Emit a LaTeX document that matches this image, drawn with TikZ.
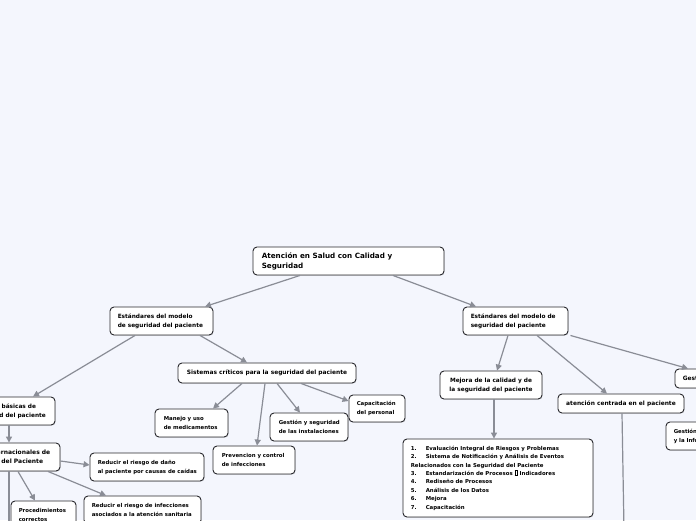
\documentclass[tikz,border=0pt]{standalone}
\usepackage{fontspec}
\setmainfont{DejaVu Sans}
\usetikzlibrary{arrows.meta,calc,shadows}
\definecolor{bgcol}{RGB}{244,246,253}
\definecolor{boxborder}{RGB}{40,40,45}
\definecolor{conncol}{RGB}{138,141,150}
\newcommand{\fsz}[2]{\fontsize{#1}{#2}\selectfont\bfseries}
\newcommand{\numit}[1]{\makebox[15pt][l]{#1}}
\newcommand{\tofu}{{\setlength\fboxsep{0pt}\setlength\fboxrule{0.4pt}\fbox{\rule{0pt}{4.6pt}\hspace{2.4pt}}}}
\tikzset{
  box/.style={draw=boxborder, fill=white, rounded corners=4pt, line width=0.9pt,
    inner sep=0pt,
    drop shadow={opacity=0.25, shadow xshift=0.6pt, shadow yshift=-0.8pt}},
  txt/.style={inner sep=0pt, align=left, font=\fsz{5.8}{9}},
  conn/.style={draw=conncol, line width=1.2pt, -{Triangle[length=6pt,width=6pt]}},
  plainc/.style={draw=conncol, line width=1.2pt}
}
\begin{document}
\begin{tikzpicture}[x=1pt,y=-1pt]
\fill[bgcol] (0,0) rectangle (696,520);
\useasboundingbox (0,0) rectangle (696,520);
\clip (0,0) rectangle (696,520);

% boxes
\node[box, minimum width=191pt, minimum height=28pt] (main) at (348.5,261) {};
\node[box, minimum width=103pt, minimum height=28pt] (lstd) at (161.5,321) {};
\node[box, minimum width=105pt, minimum height=28pt] (rstd) at (515.5,321) {};
\node[box, minimum width=178pt, minimum height=20pt] (sist) at (267,373) {};
\node[box, minimum width=92pt, minimum height=28pt] (acc) at (9,411) {};
\node[box, minimum width=103pt, minimum height=28pt] (metas) at (8.5,457) {};
\node[box, minimum width=114pt, minimum height=28pt] (reddano) at (147,467) {};
\node[box, minimum width=117pt, minimum height=28pt] (redinf) at (142.5,510) {};
\node[box, minimum width=65pt, minimum height=28pt] (proc) at (43.5,515) {};
\node[box, minimum width=73pt, minimum height=28pt] (manejo) at (191.5,423) {};
\node[box, minimum width=82pt, minimum height=28pt] (prev) at (254,460) {};
\node[box, minimum width=78pt, minimum height=28pt] (gest) at (309,427) {};
\node[box, minimum width=56pt, minimum height=27pt] (capac) at (377,408.5) {};
\node[box, minimum width=102pt, minimum height=28pt] (mejora) at (491,385) {};
\node[box, minimum width=190pt, minimum height=78pt] (list) at (498,478) {};
\node[box, minimum width=126pt, minimum height=19pt] (aten) at (621,403.5) {};
\node[box, minimum width=84pt, minimum height=19pt] (ges) at (717,378.5) {};
\node[box, minimum width=114pt, minimum height=28pt] (gesinf) at (723,436) {};

% texts
\node[txt, anchor=west, font=\fsz{7.2}{10}] (tmain) at ($(main.west)+(9,0)$) {Atención en Salud con Calidad y\\Seguridad};
\node[txt, anchor=west] (tlstd) at ($(lstd.west)+(8,0)$) {Estándares del modelo\\de seguridad del paciente};
\node[txt, anchor=west] (trstd) at ($(rstd.west)+(8,0)$) {Estándares del modelo de\\seguridad del paciente};
\node[txt, font=\fsz{5.9}{9}] (tsist) at (sist.center) {Sistemas críticos para la seguridad del paciente};
\node[txt, anchor=west] (tacc) at ($(acc.west)+(8,0)$) {Acciones básicas de\\seguridad del paciente};
\node[txt, anchor=west, font=\fsz{6.0}{9}] (tmetas) at ($(metas.west)+(8,0)$) {Metas Internacionales de\\Seguridad del Paciente};
\node[txt, anchor=west, font=\fsz{5.4}{9}] (treddano) at ($(reddano.west)+(8,0)$) {Reducir el riesgo de daño\\al paciente por causas de caídas};
\node[txt, anchor=west, font=\fsz{5.4}{9}] (tredinf) at ($(redinf.west)+(8,0)$) {Reducir el riesgo de infecciones\\asociados a la atención sanitaria};
\node[txt, anchor=west, font=\fsz{5.4}{9}] (tproc) at ($(proc.west)+(8,0)$) {Procedimientos\\correctos};
\node[txt, anchor=west, font=\fsz{5.4}{9}] (tmanejo) at ($(manejo.west)+(9,0)$) {Manejo y uso\\de medicamentos};
\node[txt, anchor=west, font=\fsz{5.4}{9}] (tprev) at ($(prev.west)+(9,0)$) {Prevencion y control\\de infecciones};
\node[txt, anchor=west, font=\fsz{5.4}{9}] (tgest) at ($(gest.west)+(9,0)$) {Gestión y seguridad\\de las instalaciones};
\node[txt, anchor=west, font=\fsz{5.4}{9}] (tcapac) at ($(capac.west)+(8,0)$) {Capacitación\\del personal};
\node[txt, align=center] (tmejora) at (mejora.center) {Mejora de la calidad y de\\la seguridad del paciente};
\node[txt, anchor=west, font=\fsz{5.4}{8.4}] (tlist) at ($(list.west)+(8,0)$) {%
\numit{1.}Evaluación Integral de Riesgos y Problemas\\
\numit{2.}Sistema de Notificación y Análisis de Eventos\\
Relacionados con la Seguridad del Paciente\\
\numit{3.}Estandarización de Procesos \tofu\ Indicadores\\
\numit{4.}Rediseño de Procesos\\
\numit{5.}Análisis de los Datos\\
\numit{6.}Mejora\\
\numit{7.}Capacitación};
\node[txt, font=\fsz{5.9}{9}] (taten) at (aten.center) {atención centrada en el paciente};
\node[txt, anchor=west, font=\fsz{5.9}{9}] (tges) at ($(ges.west)+(8,0)$) {Gestión del riesgo};
\node[txt, anchor=west, font=\fsz{5.4}{9}] (tgesinf) at ($(gesinf.west)+(8,0)$) {Gestión de la Comunicación\\y la Información};

\coordinate (metasdown) at (9,530);
\coordinate (atendown) at (624,530);

% connectors
\draw[conn] ($(main.south)+(-48.5,0)$) -- ($(lstd.north)+(43.5,0)$);
\draw[conn] ($(main.south)+(44.5,0)$) -- ($(rstd.north)+(-39.5,0)$);
\draw[conn] ($(lstd.south)+(-26.5,0)$) -- ($(acc.north)+(24,0)$);
\draw[conn] ($(lstd.south)+(38.5,0)$) -- ($(sist.north)+(-20,0)$);
\draw[conn] (acc.south) -- ($(metas.north)+(0.5,0)$);
\draw[conn] ($(metas.east)+(0,4)$) -- ($(reddano.west)+(0,-2)$);
\draw[conn] ($(metas.south)+(39.5,0)$) -- ($(redinf.north)+(-36.5,0)$);
\draw[conn] ($(metas.south)+(9.5,0)$) -- ($(proc.north)+(-8.5,0)$);
\draw[plainc] ($(metas.south)+(0.5,0)$) -- (metasdown);
\draw[conn] ($(sist.south)+(-25,0)$) -- ($(manejo.north)+(21.5,0)$);
\draw[conn] ($(sist.south)+(-2,0)$) -- ($(prev.north)+(3,0)$);
\draw[conn] ($(sist.south)+(10,0)$) -- ($(gest.north)+(-9,0)$);
\draw[conn] ($(sist.south)+(34,0)$) -- ($(capac.west)+(0,-7.5)$);
\draw[conn] ($(rstd.south)+(-7.5,0)$) -- ($(mejora.north)+(6,0)$);
\draw[conn] ($(rstd.south)+(21.5,0)$) -- ($(aten.north)+(-14,0)$);
\draw[conn] ($(rstd.south east)+(2,0)$) -- ($(ges.north)+(-29,0)$);
\draw[conn] ($(mejora.south)+(3,0)$) -- ($(list.north)+(-4,0)$);
\draw[plainc] ($(aten.south)+(1,0)$) -- (atendown);
\end{tikzpicture}
\end{document}
